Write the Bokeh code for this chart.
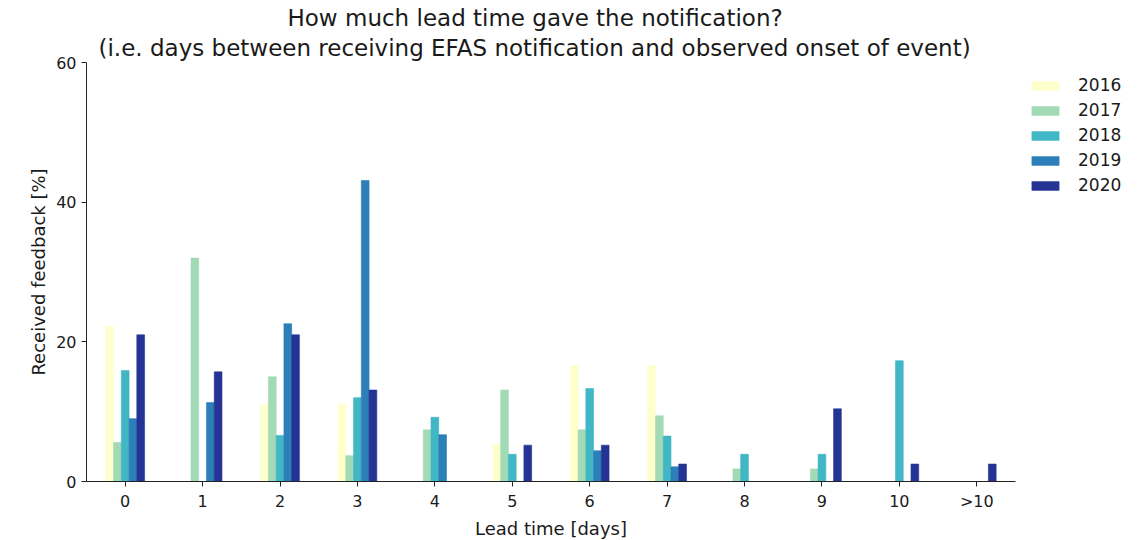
from bokeh.plotting import figure
from bokeh.models import ColumnDataSource, FactorRange, Legend, LegendItem, Title
from bokeh.transform import dodge
from bokeh.embed import file_html
from bokeh.resources import INLINE

categories = ["0", "1", "2", "3", "4", "5", "6", "7", "8", "9", "10", ">10"]
years = ["2016", "2017", "2018", "2019", "2020"]
v2016 = [22.2, 0, 11.0, 11.0, 0, 5.4, 16.6, 16.6, 0, 0, 0, 0]
v2017 = [5.6, 32.0, 15.0, 3.7, 7.4, 13.1, 7.4, 9.4, 1.8, 1.8, 0, 0]
v2018 = [15.9, 0, 6.6, 12.0, 9.2, 3.9, 13.3, 6.5, 3.9, 3.9, 17.3, 0]
v2019 = [9.0, 11.3, 22.6, 43.1, 6.7, 0, 4.4, 2.1, 0, 0, 0, 0]
v2020 = [21.0, 15.7, 21.0, 13.1, 0, 5.2, 5.2, 2.5, 0, 10.4, 2.5, 2.5]
colors = ["#ffffcc", "#a1dab4", "#41b6c4", "#2c7fb8", "#253494"]

src = ColumnDataSource(dict(cat=categories, y2016=v2016, y2017=v2017,
                            y2018=v2018, y2019=v2019, y2020=v2020))

FONT = "DejaVu Sans"
TXT = "#1a1a1a"
p = figure(x_range=FactorRange(*categories, range_padding=0), y_range=(0, 60),
           width=1128, height=530, output_backend="svg", toolbar_location=None,
           min_border_left=86, min_border_right=113, min_border_top=62,
           min_border_bottom=45)
p.frame_width = 929
p.frame_height = 419

offsets = [-0.2, -0.1, 0.0, 0.1, 0.2]
items = []
for yr, col, off in zip(years, colors, offsets):
    r = p.vbar(x=dodge("cat", off, range=p.x_range), top="y" + yr, width=0.1,
               source=src, fill_color=col, line_color=col, line_alpha=0.6)
    items.append(LegendItem(label=yr, renderers=[r]))

legend = Legend(items=items, location="top_left", border_line_color=None,
                background_fill_alpha=0, label_text_font=FONT,
                label_text_font_size="17px", label_text_color=TXT,
                glyph_width=34, glyph_height=11, label_height=11,
                spacing=5, margin=13, padding=0, label_standoff=16)
p.add_layout(legend, "right")

p.add_layout(Title(text="(i.e. days between receiving EFAS notification and observed onset of event)",
                   align="left", text_font=FONT, text_font_size="23px", text_color=TXT,
                   text_font_style="normal", offset=12, standoff=4), "above")
p.add_layout(Title(text="How much lead time gave the notification?",
                   align="left", text_font=FONT, text_font_size="23px", text_color=TXT,
                   text_font_style="normal", offset=201, standoff=0), "above")

p.xgrid.grid_line_color = None
p.ygrid.grid_line_color = None
p.outline_line_color = None
p.yaxis.ticker = [0, 20, 40, 60]
for ax in (p.xaxis[0], p.yaxis[0]):
    ax.major_label_text_font = FONT
    ax.major_label_text_font_size = "16px"
    ax.axis_label_text_font = FONT
    ax.axis_label_text_font_size = "18px"
    ax.axis_label_text_font_style = "normal"
    ax.minor_tick_line_color = None
    ax.major_tick_out = 5
    ax.major_tick_in = 0
    ax.axis_line_color = "#222222"
    ax.major_tick_line_color = "#222222"
    ax.major_label_text_color = TXT
    ax.axis_label_text_color = TXT
    ax.axis_label_standoff = 4
    ax.major_label_standoff = 5
p.xaxis.axis_label = "Lead time [days]"
p.yaxis.axis_label = "Received feedback [%]"

open("out.html", "w").write(file_html(p, INLINE))
